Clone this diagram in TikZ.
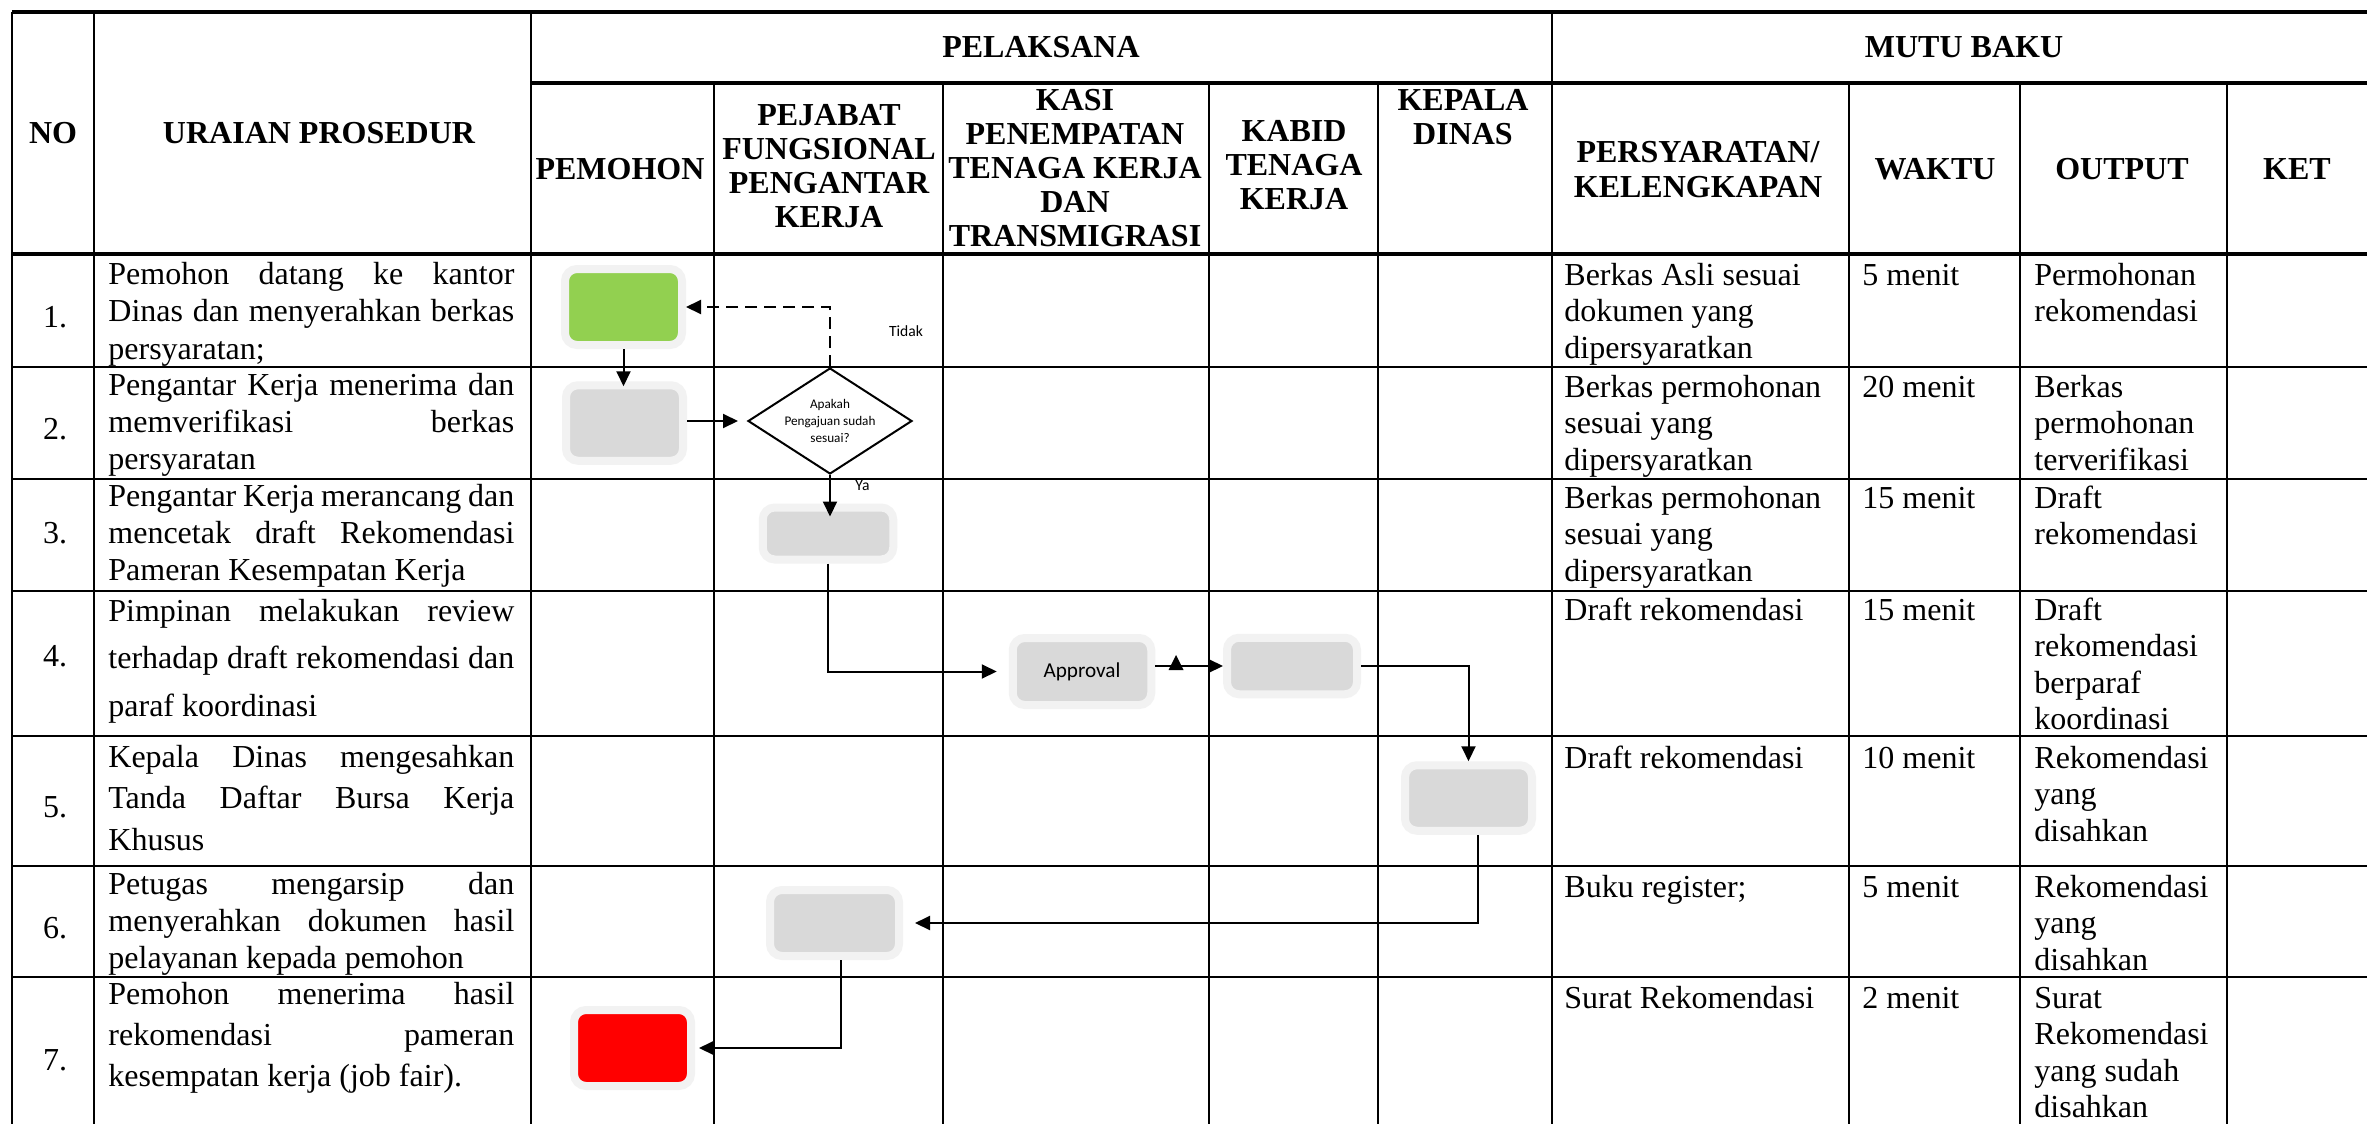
\documentclass[tikz,border=0pt]{standalone}
\usepackage{fontspec}
\setmainfont{Liberation Serif}
\newfontfamily\flowfont{Carlito}
\usetikzlibrary{arrows.meta,shapes.geometric,calc}
\definecolor{haloc}{HTML}{F2F2F2}
\definecolor{boxgray}{HTML}{D9D9D9}
\definecolor{boxgreen}{HTML}{92D050}
\definecolor{boxred}{HTML}{FF0000}
\newcommand{\uraiantext}[2]{\parbox[t]{203pt}{\fontsize{16}{#1}\selectfont #2}}
\newcommand{\celltext}[1]{\parbox[t]{150pt}{\fontsize{16}{18.25}\selectfont\raggedright #1}}
\begin{document}
\begin{tikzpicture}[x=0.5pt,y=-0.5pt,
  hthick/.style={line width=2pt},
  hrow/.style={line width=1.4pt},
  vcol/.style={line width=1.1pt},
  hdr/.style={inner sep=0pt, align=center, font=\fontsize{16}{17}\selectfont\bfseries},
  numtxt/.style={inner sep=0pt, font=\fontsize{16}{18}\selectfont},
  celltxt/.style={inner sep=0pt, anchor=base west},
  halo/.style={draw=haloc, line width=4pt, rounded corners=6pt, inner sep=0pt},
  graybox/.style={halo, fill=boxgray},
  decision/.style={diamond, draw=black, line width=1pt, fill=white, inner sep=0pt, minimum width=82pt, minimum height=53pt},
  flowtxt/.style={inner sep=0pt, font=\flowfont\fontsize{7.8}{9}\selectfont},
  conn/.style={line width=1pt, -{Triangle[length=7.5pt,width=7pt]}},
]
\useasboundingbox (0,0) rectangle (2367,1124);
\fill[white] (0,0) rectangle (2367,1124);
% ---------- table grid ----------
\draw[hthick] (12,12) -- (2400,12);
\draw[hthick] (531,83) -- (2400,83);
\draw[hthick] (12,254) -- (2400,254);
\foreach \yy in {367,479,591,736,866,977} \draw[hrow] (12,\yy) -- (2400,\yy);
\foreach \xx in {12,94,531,1552,2372} \draw[vcol] (\xx,12) -- (\xx,1140);
\foreach \xx in {714,943,1209,1378,1849,2020,2227} \draw[vcol] (\xx,83) -- (\xx,1140);
% ---------- headers ----------
\node[hdr] (hno) at (53,133) {NO};
\node[hdr] (hur) at (319,133) {URAIAN PROSEDUR};
\node[hdr] (hpel) at (1041,47) {PELAKSANA};
\node[hdr] (hmutu) at (1964,47) {MUTU BAKU};
\node[hdr] (hpem) at (620,169) {PEMOHON};
\node[hdr] (hpej) at (829,166) {PEJABAT\\FUNGSIONAL\\PENGANTAR\\KERJA};
\node[hdr] (hkasi) at (1075,168) {KASI\\PENEMPATAN\\TENAGA KERJA\\DAN\\TRANSMIGRASI};
\node[hdr] (hkabid) at (1294,165) {KABID\\TENAGA\\KERJA};
\node[hdr, anchor=north] (hkep) at (1463,89) {KEPALA\\DINAS};
\node[hdr, font=\fontsize{16}{17.5}\selectfont\bfseries] (hpers) at (1698,170) {PERSYARATAN/\\KELENGKAPAN};
\node[hdr] (hwak) at (1935,169) {WAKTU};
\node[hdr] (hout) at (2122,169) {OUTPUT};
\node[hdr] (hket) at (2297,169) {KET};
% ---------- numbers ----------
\node[numtxt] (n1) at (55,317) {1.};
\node[numtxt] (n2) at (55,429) {2.};
\node[numtxt] (n3) at (55,533) {3.};
\node[numtxt] (n4) at (55,656) {4.};
\node[numtxt] (n5) at (55,807) {5.};
\node[numtxt] (n6) at (55,928) {6.};
\node[numtxt] (n7) at (55,1060) {7.};
% ---------- procedure descriptions ----------
\node[celltxt] (u1) at (108,284) {\uraiantext{18.75}{Pemohon datang ke kantor\linebreak Dinas dan menyerahkan berkas\linebreak persyaratan;}};
\node[celltxt] (u2) at (108,395) {\uraiantext{18.5}{Pengantar Kerja menerima dan\linebreak memverifikasi berkas\linebreak persyaratan}};
\node[celltxt] (u3) at (108,506) {\uraiantext{18.5}{Pengantar Kerja merancang dan\linebreak mencetak draft Rekomendasi\linebreak Pameran Kesempatan Kerja}};
\node[celltxt] (u4) at (108,621) {\uraiantext{23.75}{Pimpinan melakukan review\linebreak terhadap draft rekomendasi dan\linebreak paraf koordinasi}};
\node[celltxt] (u5) at (108,767) {\uraiantext{20.75}{Kepala Dinas mengesahkan\linebreak Tanda Daftar Bursa Kerja\linebreak Khusus}};
\node[celltxt] (u6) at (108,894) {\uraiantext{18.5}{Petugas mengarsip dan\linebreak menyerahkan dokumen hasil\linebreak pelayanan kepada pemohon}};
\node[celltxt] (u7) at (108,1004) {\uraiantext{20.5}{Pemohon menerima hasil\linebreak rekomendasi pameran\linebreak kesempatan kerja (job fair).}};
% ---------- persyaratan ----------
\node[celltxt] (p1) at (1564,285) {\celltext{Berkas Asli sesuai\\dokumen yang\\dipersyaratkan}};
\node[celltxt] (p2) at (1564,397) {\celltext{Berkas permohonan\\sesuai yang\\dipersyaratkan}};
\node[celltxt] (p3) at (1564,508) {\celltext{Berkas permohonan\\sesuai yang\\dipersyaratkan}};
\node[celltxt] (p4) at (1564,620) {\celltext{Draft rekomendasi}};
\node[celltxt] (p5) at (1564,768) {\celltext{Draft rekomendasi}};
\node[celltxt] (p6) at (1564,897) {\celltext{Buku register;}};
\node[celltxt] (p7) at (1564,1008) {\celltext{Surat Rekomendasi}};
% ---------- waktu ----------
\node[celltxt] (w1) at (1862,285) {\celltext{5 menit}};
\node[celltxt] (w2) at (1862,397) {\celltext{20 menit}};
\node[celltxt] (w3) at (1862,508) {\celltext{15 menit}};
\node[celltxt] (w4) at (1862,620) {\celltext{15 menit}};
\node[celltxt] (w5) at (1862,768) {\celltext{10 menit}};
\node[celltxt] (w6) at (1862,897) {\celltext{5 menit}};
\node[celltxt] (w7) at (1862,1008) {\celltext{2 menit}};
% ---------- output ----------
\node[celltxt] (o1) at (2034,285) {\celltext{Permohonan\\rekomendasi}};
\node[celltxt] (o2) at (2034,397) {\celltext{Berkas\\permohonan\\terverifikasi}};
\node[celltxt] (o3) at (2034,508) {\celltext{Draft\\rekomendasi}};
\node[celltxt] (o4) at (2034,620) {\celltext{Draft\\rekomendasi\\berparaf\\koordinasi}};
\node[celltxt] (o5) at (2034,768) {\celltext{Rekomendasi\\yang\\disahkan}};
\node[celltxt] (o6) at (2034,897) {\celltext{Rekomendasi\\yang\\disahkan}};
\node[celltxt] (o7) at (2034,1008) {\celltext{Surat\\Rekomendasi\\yang sudah\\disahkan}};
% ---------- flow shapes ----------
\node[halo, fill=boxgreen, minimum width=58.5pt, minimum height=38pt] (start) at (623.5,307) {};
\node[graybox, minimum width=58.5pt, minimum height=37.75pt] (recv) at (624.5,423) {};
\node[decision] (dia) at (830,421) {};
\node[inner sep=0pt, align=center, font=\flowfont\fontsize{6.6}{8.5}\selectfont] (diat) at (dia.center) {Apakah\\Pengajuan sudah\\sesuai?};
\node[graybox, minimum width=65.25pt, minimum height=26pt] (draft) at (828,533.5) {};
\node[graybox, minimum width=69.25pt, minimum height=33.5pt, font=\flowfont\fontsize{10.6}{12}\selectfont] (appr) at (1082,671.5) {Approval\hspace{4.5pt}};
\node[graybox, minimum width=65pt, minimum height=28.25pt] (kabid) at (1292,666) {};
\node[graybox, minimum width=63.5pt, minimum height=32.75pt] (kadis) at (1468.5,798) {};
\node[graybox, minimum width=64.5pt, minimum height=33pt] (arsip) at (834.5,923) {};
\node[halo, fill=boxred, minimum width=58.5pt, minimum height=38pt] (finish) at (632.5,1048) {};
% ---------- labels ----------
\node[flowtxt] (ltidak) at (906,331) {Tidak};
\node[flowtxt] (lya) at (862.5,486) {Ya};
% ---------- connectors ----------
\draw[conn, shorten >=-2.5pt] (start.south) -- (start.south |- recv.north);
\draw[conn, shorten >=4.5pt] (recv.east |- dia.west) -- (dia.west);
\draw[conn, dash pattern=on 6pt off 3.5pt] (dia.north) |- (start.east);
\draw[conn, shorten >=-6.5pt] (dia.south) -- (dia.south |- draft.north);
\draw[conn, shorten >=6pt] (draft.south) |- (appr.west);
\draw[conn] (appr.east |- kabid.west) -- (kabid.west);
\fill (1168.5,670) -- (1183.5,670) -- (1176,655) -- cycle;
\draw[conn] (kabid.east) -| (kadis.north);
\draw[conn, shorten >=6pt] ([xshift=4.5pt]kadis.south) |- (arsip.east);
\draw[conn, shorten >=2pt] ([xshift=3pt]arsip.south) |- (finish.east);
\end{tikzpicture}
\end{document}
